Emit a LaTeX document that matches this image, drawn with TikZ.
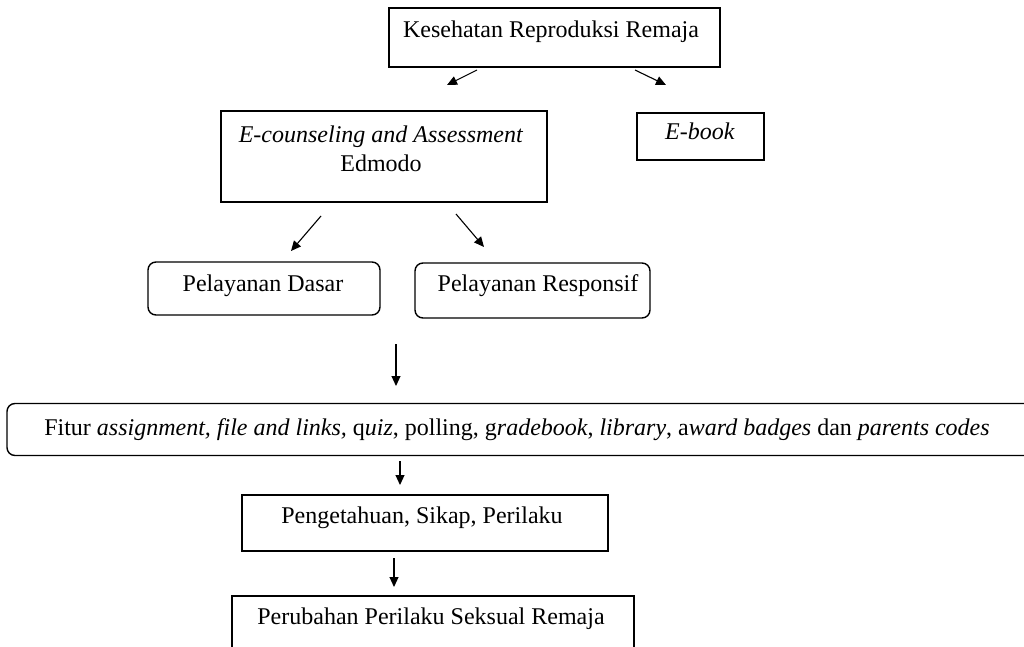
\documentclass[tikz,border=0pt]{standalone}
\usepackage{fontspec}
\setmainfont{Liberation Serif}[ItalicFont={Liberation Serif Italic}]
\usetikzlibrary{arrows.meta}
\begin{document}
\begin{tikzpicture}[x=0.5pt,y=-0.5pt,
  box/.style={draw, line width=0.7pt, inner sep=0pt},
  rbox/.style={box, rounded corners=4pt},
  lbl/.style={anchor=base, inner sep=0pt, font=\fontsize{12}{14.5}\selectfont},
  arr/.style={line width=0.55pt, -{Triangle[length=5pt,width=4.5pt]}}]
\useasboundingbox (0,0) rectangle (1024,647);
% boxes
\node[box, minimum width=165.5pt, minimum height=29.5pt] (kes) at (554.5,37.5) {};
\node[box, minimum width=163pt, minimum height=45.5pt] (ec) at (384,156.5) {};
\node[box, minimum width=63.5pt, minimum height=23.5pt] (eb) at (700.5,136.5) {};
\node[rbox, minimum width=116pt, minimum height=26.5pt] (pd) at (264,288.5) {};
\node[rbox, minimum width=117.5pt, minimum height=27.5pt] (pr) at (532.5,290.5) {};
\node[rbox, minimum width=516.5pt, minimum height=26pt] (fit) at (523.5,429.5) {};
\node[box, minimum width=183pt, minimum height=28pt] (pg) at (425,523) {};
\node[box, minimum width=201pt, minimum height=52pt] (pp) at (433,648) {};
% labels
\node[lbl] (kest) at (551,38) {Kesehatan Reproduksi Remaja};
\node[lbl] (ect1) at (381,143) {\textit{E-counseling and Assessment}};
\node[lbl] (ect2) at (381,172) {Edmodo};
\node[lbl] (ebt) at (700,140) {\textit{E-book}};
\node[lbl] (pdt) at (263,292) {Pelayanan Dasar};
\node[lbl] (prt) at (538,292) {Pelayanan Responsif};
\node[lbl] (fitt) at (517,435) {Fitur \textit{assignment, file and links,} q\textit{uiz}, polling, g\textit{radebook}, \textit{library}, a\textit{ward badges} dan \textit{parents codes}};
\node[lbl] (pgt) at (422,523) {Pengetahuan, Sikap, Perilaku};
\node[lbl] (ppt) at (431,624) {Perubahan Perilaku Seksual Remaja};
% arrow end points
\coordinate (a1s) at (477,70);  \coordinate (a1e) at (447,85);
\coordinate (a2s) at (635,70);  \coordinate (a2e) at (666,85);
\coordinate (a3s) at (321,216); \coordinate (a3e) at (291,251);
\coordinate (a4s) at (456,214); \coordinate (a4e) at (484,247);
\coordinate (a5s) at (396,344); \coordinate (a5e) at (396,386);
\coordinate (a6s) at (400,461); \coordinate (a6e) at (400,485);
\coordinate (a7s) at (394,558); \coordinate (a7e) at (394,587);
\draw[arr] (a1s) -- (a1e);
\draw[arr] (a2s) -- (a2e);
\draw[arr] (a3s) -- (a3e);
\draw[arr] (a4s) -- (a4e);
\draw[arr] (a5s) -- (a5e);
\draw[arr] (a6s) -- (a6e);
\draw[arr] (a7s) -- (a7e);
\end{tikzpicture}
\end{document}
